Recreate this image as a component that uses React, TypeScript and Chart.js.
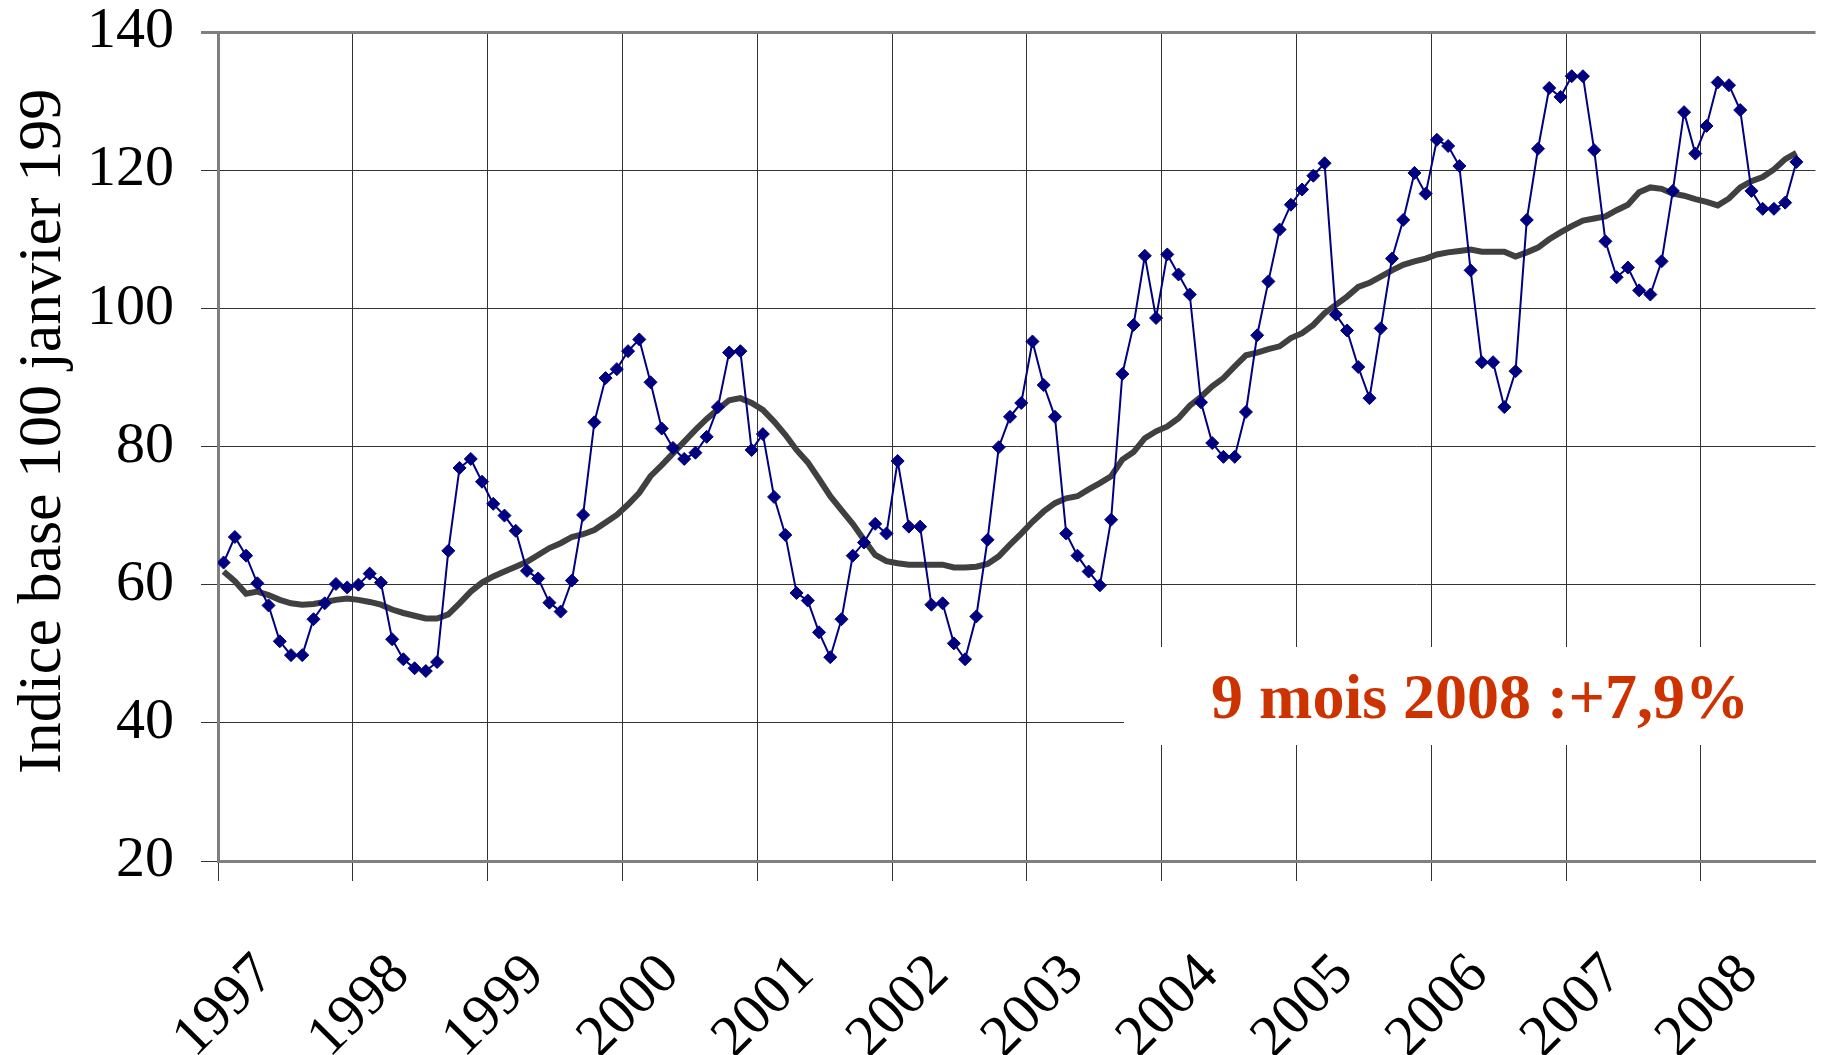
import React, { useEffect, useRef } from "react";
import { Chart, registerables } from "chart.js";

Chart.register(...registerables);

// ---- Data ----
const yearLabels = ["1997", "1998", "1999", "2000", "2001", "2002", "2003", "2004", "2005", "2006", "2007", "2008"];

// Monthly index, Jan 1997 .. Sep 2008
const indexValues = [
  63.2, 66.9, 64.2, 60.2, 57.0, 51.8, 49.8, 49.8, 55.0, 57.3, 60.1, 59.6,
  60.0, 61.6, 60.3, 52.1, 49.2, 47.9, 47.5, 48.8, 64.9, 76.9, 78.2, 74.9,
  71.7, 70.0, 67.8, 62.0, 60.9, 57.4, 56.1, 60.6, 70.1, 83.5, 89.9, 91.2,
  93.8, 95.5, 89.3, 82.6, 79.8, 78.2, 79.1, 81.4, 85.7, 93.6, 93.8, 79.5,
  81.8, 72.7, 67.2, 58.8, 57.7, 53.1, 49.5, 55.0, 64.2, 66.1, 68.8, 67.4,
  77.9, 68.4, 68.4, 57.1, 57.3, 51.5, 49.2, 55.4, 66.5, 79.9, 84.3, 86.3,
  95.2, 88.9, 84.3, 67.4, 64.2, 61.9, 59.9, 69.4, 90.5, 97.6, 107.6, 98.6,
  107.8, 104.9, 102.0, 86.4, 80.5, 78.5, 78.5, 85.0, 96.1, 103.9, 111.4, 115.0,
  117.2, 119.2, 121.0, 99.1, 96.8, 91.5, 87.0, 97.1, 107.2, 112.8, 119.6, 116.6,
  124.4, 123.5, 120.6, 105.5, 92.2, 92.2, 85.7, 90.9, 112.8, 123.1, 131.9, 130.6,
  133.6, 133.6, 122.9, 109.7, 104.5, 105.9, 102.6, 102.0, 106.8, 117.0, 128.4, 122.4,
  126.4, 132.7, 132.3, 128.7, 117.0, 114.4, 114.4, 115.3, 121.2,
];

// 12-month moving average
const movingAverage = [
  61.9, 60.5, 58.7, 59.0, 58.5, 57.8, 57.3, 57.1, 57.2, 57.5, 57.8, 58.0,
  57.8, 57.5, 57.1, 56.4, 55.9, 55.5, 55.1, 55.1, 55.7, 57.3, 59.0, 60.3,
  61.2, 61.9, 62.6, 63.3, 64.3, 65.3, 66.0, 66.9, 67.3, 67.9, 69.0, 70.1,
  71.6, 73.3, 75.7, 77.3, 79.0, 80.7, 82.4, 84.0, 85.4, 86.7, 87.0, 86.3,
  85.3, 83.6, 81.7, 79.5, 77.7, 75.3, 72.8, 70.8, 68.8, 66.5, 64.3, 63.4,
  63.1, 62.9, 62.9, 62.9, 62.9, 62.5, 62.5, 62.6, 63.0, 64.1, 65.8, 67.4,
  69.1, 70.6, 71.8, 72.5, 72.8, 73.8, 74.7, 75.7, 78.1, 79.2, 81.2, 82.2,
  82.9, 84.1, 85.9, 87.2, 88.7, 89.9, 91.6, 93.2, 93.6, 94.1, 94.5, 95.7,
  96.4, 97.6, 99.3, 100.5, 101.7, 103.1, 103.7, 104.6, 105.5, 106.3, 106.8, 107.2,
  107.8, 108.1, 108.3, 108.5, 108.2, 108.2, 108.2, 107.5, 108.1, 108.8, 110.0, 111.0,
  111.9, 112.7, 113.0, 113.3, 114.2, 115.0, 116.8, 117.5, 117.3, 116.6, 116.3, 115.8,
  115.4, 114.9, 115.9, 117.5, 118.4, 119.0, 120.1, 121.6, 122.5,
];

const yMin = 20;
const yMax = 140;
const yStep = 20;
const monthsPerYear = 12;
const xAxisMonths = 142.2; // visible extent of the (cropped) time axis, in months

const axisTitle = "Indice base 100 janvier 199";
const annotationText = "9 mois 2008 :+7,9%";

const SERIF = "'Liberation Serif', 'Times New Roman', serif";

export default function App() {
  const canvasRef = useRef<HTMLCanvasElement | null>(null);

  useEffect(() => {
    const canvas = canvasRef.current;
    if (!canvas) return;

    const overlayPlugin = {
      id: "overlay",
      beforeDatasetsDraw(chart: any) {
        const ctx = chart.ctx;
        // white annotation box hiding the gridlines
        ctx.save();
        ctx.fillStyle = "#ffffff";
        ctx.fillRect(1124, 647, 720, 98);
        ctx.restore();
      },
      afterDraw(chart: any) {
        const ctx = chart.ctx;
        ctx.save();
        ctx.fillStyle = "#cc3300";
        ctx.font = `bold 64px ${SERIF}`;
        ctx.textAlign = "center";
        ctx.textBaseline = "alphabetic";
        ctx.fillText(annotationText, 1480, 718);
        ctx.restore();

        ctx.save();
        ctx.translate(60, 774);
        ctx.rotate(-Math.PI / 2);
        ctx.fillStyle = "#000000";
        ctx.font = `62px ${SERIF}`;
        ctx.textAlign = "left";
        ctx.textBaseline = "alphabetic";
        ctx.fillText(axisTitle, 0, 0);
        ctx.restore();
      },
    };

    const chart = new Chart(canvas, {
      type: "line",
      data: {
        datasets: [
          {
            label: "Indice",
            data: indexValues.map((v, i) => ({ x: i + 0.5, y: v })),
            borderColor: "#000080",
            backgroundColor: "#000080",
            borderWidth: 2,
            pointStyle: "rectRot",
            pointRadius: 6.5,
            pointBorderWidth: 1,
            pointBackgroundColor: "#000080",
            pointBorderColor: "#000080",
            tension: 0,
          },
          {
            label: "Moyenne mobile",
            data: movingAverage.map((v, i) => ({ x: i + 0.5, y: v })),
            borderColor: "#404040",
            backgroundColor: "#404040",
            borderWidth: 6,
            pointRadius: 0,
            tension: 0,
          },
        ],
      },
      options: {
        responsive: false,
        animation: false,
        events: [],
        layout: { padding: { top: 32, left: 0, right: 0, bottom: 0 } },
        plugins: {
          legend: { display: false },
          tooltip: { enabled: false },
          title: { display: false },
        },
        scales: {
          x: {
            type: "linear",
            min: 0,
            max: xAxisMonths,
            afterBuildTicks: (scale: any) => {
              scale.ticks = yearLabels.map((_, k) => ({ value: k * monthsPerYear }));
            },
            afterFit: (scale: any) => {
              scale.height = 194;
              scale.paddingLeft = 0;
              scale.paddingRight = 0;
            },
            grid: {
              color: "#333333",
              lineWidth: 1,
              tickLength: 20,
              drawTicks: true,
            },
            border: { display: true, color: "#7f7f7f", width: 3 },
            ticks: {
              autoSkip: false,
              minRotation: 45,
              maxRotation: 45,
              padding: 60,
              labelOffset: 48,
              color: "#000000",
              font: { family: SERIF, size: 58 },
              callback: (v: any) => yearLabels[Math.round(Number(v) / monthsPerYear)] ?? "",
            },
          },
          y: {
            min: yMin,
            max: yMax,
            afterFit: (scale: any) => {
              scale.width = 218;
              scale.paddingTop = 0;
              scale.paddingBottom = 0;
            },
            grid: {
              color: (c: any) => (c.tick && c.tick.value === yMax ? "#7f7f7f" : "#333333"),
              lineWidth: (c: any) => (c.tick && c.tick.value === yMax ? 3 : 1),
              tickLength: 17,
            },
            border: { display: true, color: "#7f7f7f", width: 3 },
            ticks: {
              stepSize: yStep,
              padding: 27,
              color: "#000000",
              font: { family: SERIF, size: 58 },
            },
          },
        },
      },
      plugins: [overlayPlugin],
    } as any);

    return () => {
      chart.destroy();
    };
  }, []);

  return (
    <div style={{ position: "absolute", left: 0, top: 0, width: 1823, height: 1055, background: "#ffffff" }}>
      <canvas ref={canvasRef} width={1823} height={1055} style={{ display: "block" }} />
    </div>
  );
}
